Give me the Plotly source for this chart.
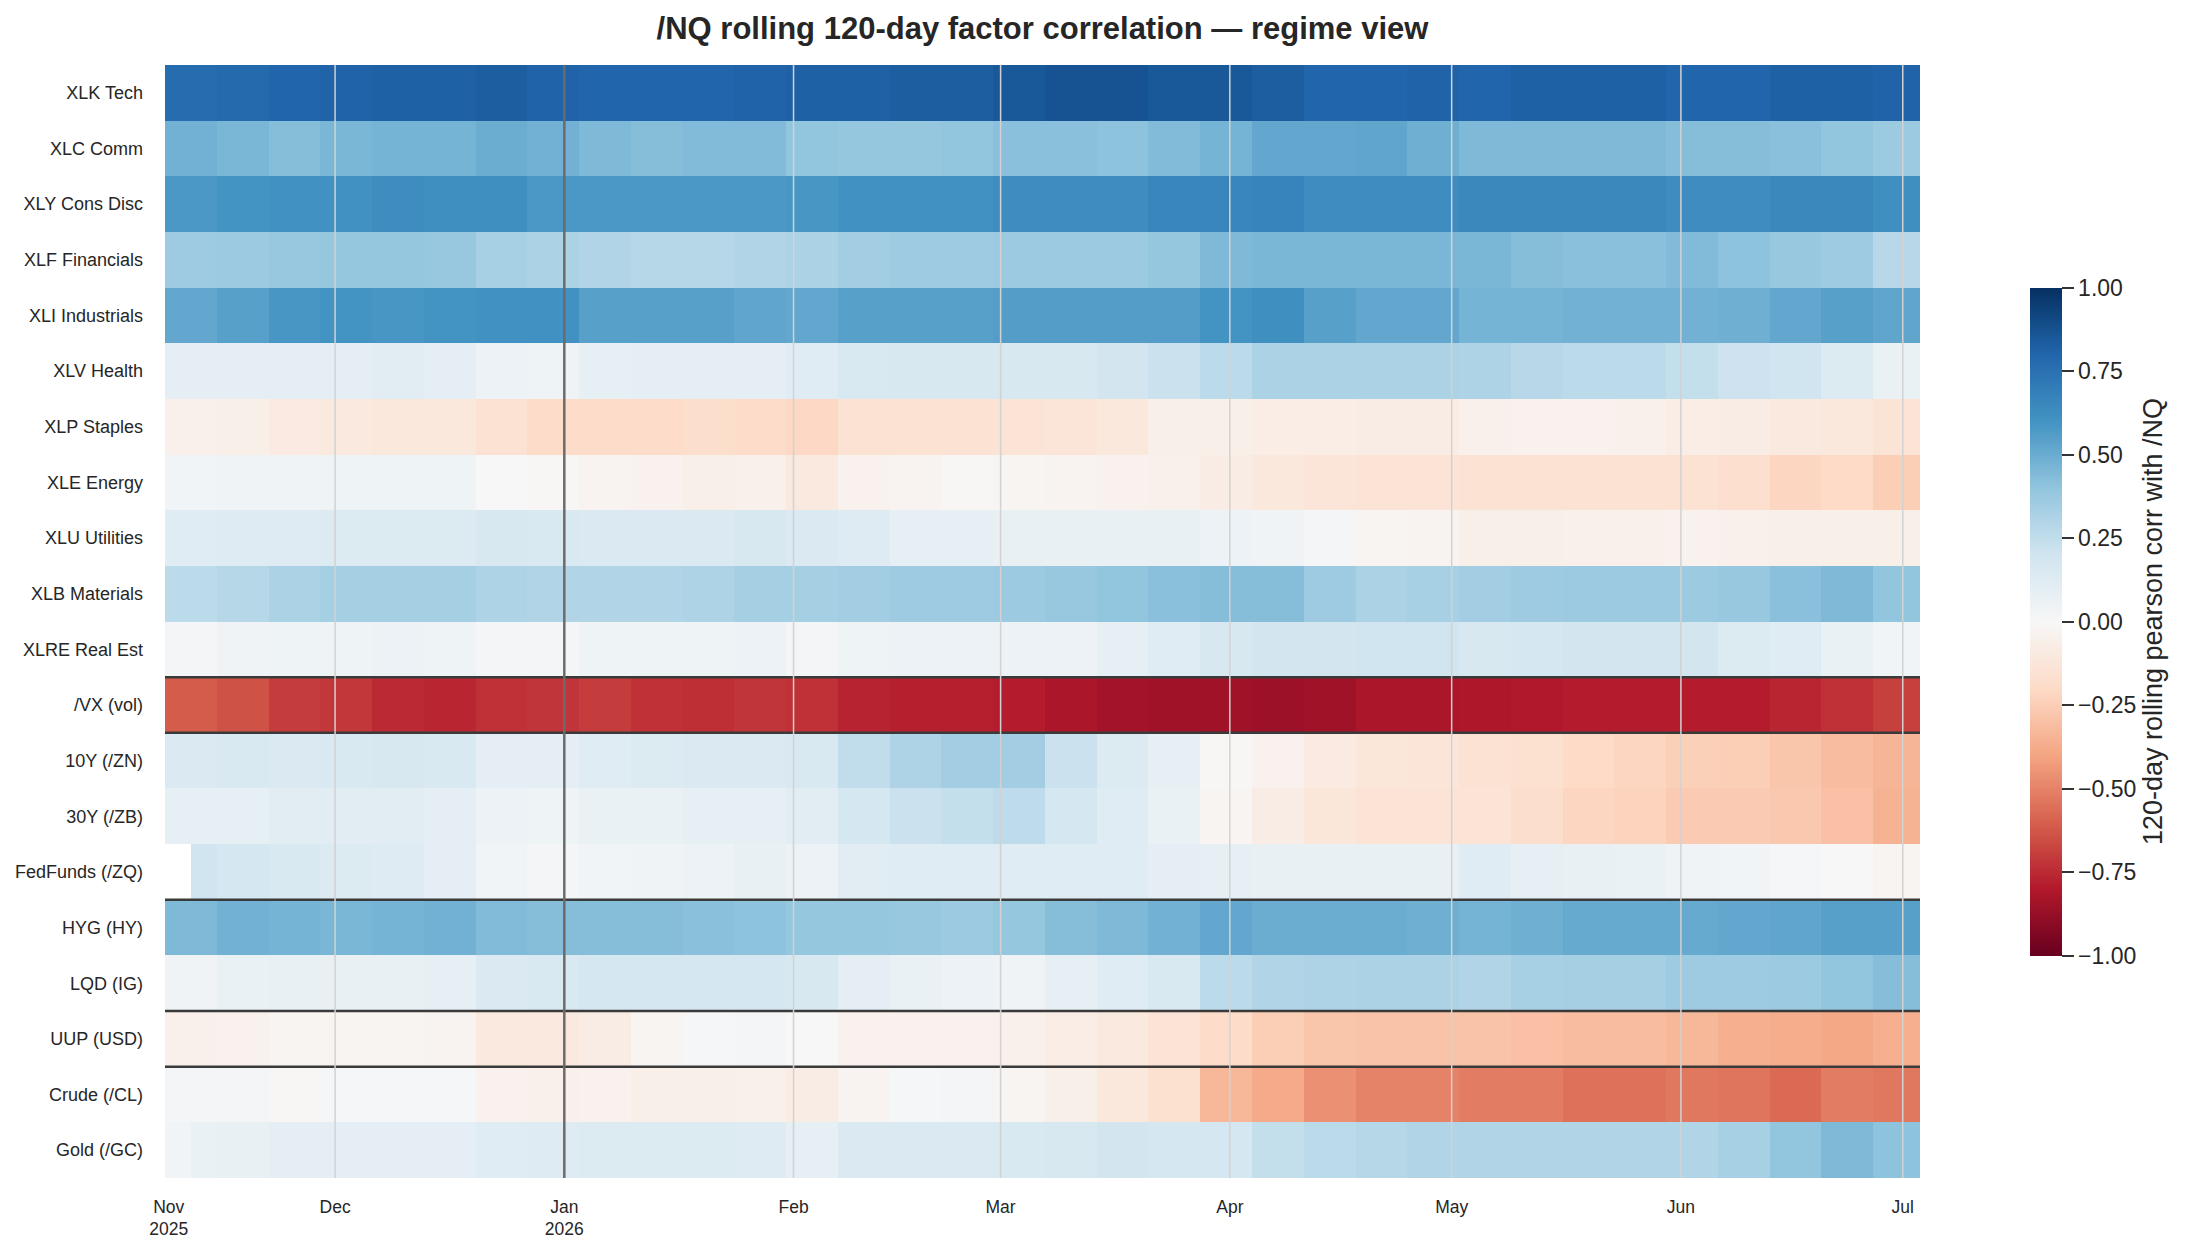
import pandas as pd
import plotly.graph_objects as go

# ---------------- data ----------------
factors = ["XLK Tech", "XLC Comm", "XLY Cons Disc", "XLF Financials", "XLI Industrials",
           "XLV Health", "XLP Staples", "XLE Energy", "XLU Utilities", "XLB Materials",
           "XLRE Real Est", "/VX (vol)", "10Y (/ZN)", "30Y (/ZB)", "FedFunds (/ZQ)",
           "HYG (HY)", "LQD (IG)", "UUP (USD)", "Crude (/CL)", "Gold (/GC)"]

# column edges (first week split in two, then weekly)
col_edges = ["2025-11-08", "2025-11-11 12:00"] + [
    d.strftime("%Y-%m-%d") for d in pd.date_range("2025-11-15", "2026-07-04", freq="7D")]

xlk = [0.77, 0.77, 0.78, 0.80, 0.81, 0.82, 0.82, 0.83, 0.81, 0.80, 0.80, 0.80, 0.81, 0.82, 0.82, 0.83, 0.83, 0.85, 0.87, 0.87, 0.85, 0.85, 0.83, 0.80, 0.80, 0.81, 0.80, 0.82, 0.82, 0.82, 0.80, 0.80, 0.82, 0.82, 0.81]
xlc = [0.48, 0.48, 0.46, 0.43, 0.46, 0.47, 0.47, 0.50, 0.48, 0.45, 0.43, 0.44, 0.44, 0.40, 0.39, 0.39, 0.40, 0.42, 0.42, 0.41, 0.44, 0.47, 0.52, 0.52, 0.53, 0.49, 0.45, 0.45, 0.45, 0.45, 0.43, 0.43, 0.42, 0.40, 0.37]
xly = [0.58, 0.58, 0.60, 0.61, 0.61, 0.63, 0.62, 0.62, 0.58, 0.58, 0.58, 0.58, 0.58, 0.59, 0.61, 0.61, 0.61, 0.63, 0.63, 0.63, 0.66, 0.66, 0.67, 0.63, 0.63, 0.63, 0.65, 0.65, 0.65, 0.65, 0.63, 0.63, 0.65, 0.65, 0.62]
xlf = [0.36, 0.36, 0.37, 0.38, 0.39, 0.39, 0.38, 0.33, 0.32, 0.30, 0.29, 0.29, 0.30, 0.32, 0.35, 0.36, 0.36, 0.37, 0.37, 0.37, 0.39, 0.45, 0.46, 0.46, 0.46, 0.46, 0.46, 0.43, 0.42, 0.42, 0.44, 0.41, 0.38, 0.36, 0.28]
xli = [0.52, 0.52, 0.55, 0.59, 0.60, 0.59, 0.60, 0.61, 0.61, 0.55, 0.55, 0.55, 0.53, 0.52, 0.55, 0.55, 0.55, 0.56, 0.56, 0.56, 0.56, 0.60, 0.62, 0.55, 0.52, 0.52, 0.47, 0.47, 0.48, 0.48, 0.48, 0.49, 0.52, 0.55, 0.53]
xlv = [0.10, 0.10, 0.10, 0.10, 0.10, 0.11, 0.10, 0.06, 0.05, 0.09, 0.10, 0.10, 0.10, 0.12, 0.16, 0.17, 0.17, 0.17, 0.17, 0.19, 0.22, 0.27, 0.32, 0.32, 0.32, 0.32, 0.31, 0.28, 0.27, 0.27, 0.24, 0.21, 0.20, 0.14, 0.07]
xlp = [-0.05, -0.05, -0.06, -0.09, -0.10, -0.11, -0.11, -0.15, -0.19, -0.19, -0.19, -0.18, -0.19, -0.21, -0.15, -0.15, -0.15, -0.14, -0.13, -0.11, -0.06, -0.06, -0.07, -0.07, -0.08, -0.08, -0.05, -0.04, -0.04, -0.05, -0.07, -0.08, -0.10, -0.11, -0.14]
xle = [0.03, 0.03, 0.04, 0.04, 0.05, 0.05, 0.05, 0.00, -0.01, -0.03, -0.04, -0.06, -0.05, -0.10, -0.04, -0.03, -0.01, -0.02, -0.03, -0.04, -0.05, -0.08, -0.11, -0.13, -0.14, -0.14, -0.15, -0.15, -0.15, -0.15, -0.15, -0.17, -0.22, -0.20, -0.25]
xlu = [0.12, 0.12, 0.13, 0.13, 0.14, 0.14, 0.14, 0.17, 0.16, 0.15, 0.15, 0.15, 0.17, 0.15, 0.13, 0.09, 0.09, 0.08, 0.08, 0.08, 0.08, 0.06, 0.04, 0.02, -0.02, -0.03, -0.06, -0.06, -0.05, -0.05, -0.04, -0.05, -0.06, -0.06, -0.06]
xlb = [0.27, 0.27, 0.29, 0.32, 0.34, 0.34, 0.34, 0.31, 0.30, 0.30, 0.30, 0.31, 0.34, 0.34, 0.35, 0.36, 0.36, 0.37, 0.38, 0.40, 0.42, 0.43, 0.43, 0.36, 0.32, 0.33, 0.35, 0.36, 0.37, 0.37, 0.37, 0.38, 0.42, 0.45, 0.40]
xlre = [0.02, 0.02, 0.04, 0.05, 0.05, 0.06, 0.05, 0.02, 0.02, 0.05, 0.05, 0.05, 0.06, 0.02, 0.05, 0.06, 0.06, 0.06, 0.06, 0.09, 0.12, 0.17, 0.19, 0.19, 0.20, 0.20, 0.17, 0.18, 0.19, 0.19, 0.19, 0.14, 0.12, 0.07, 0.03]
vx = [-0.61, -0.61, -0.64, -0.70, -0.71, -0.75, -0.76, -0.73, -0.72, -0.70, -0.73, -0.74, -0.72, -0.73, -0.77, -0.78, -0.78, -0.79, -0.82, -0.84, -0.85, -0.85, -0.86, -0.85, -0.82, -0.82, -0.81, -0.80, -0.79, -0.79, -0.79, -0.79, -0.76, -0.73, -0.69]
zn10 = [0.15, 0.15, 0.16, 0.15, 0.16, 0.17, 0.16, 0.10, 0.10, 0.12, 0.14, 0.15, 0.15, 0.16, 0.25, 0.31, 0.35, 0.35, 0.22, 0.14, 0.09, -0.01, -0.04, -0.09, -0.12, -0.13, -0.15, -0.16, -0.20, -0.22, -0.24, -0.25, -0.28, -0.31, -0.34]
zb30 = [0.09, 0.09, 0.09, 0.11, 0.11, 0.11, 0.10, 0.06, 0.05, 0.07, 0.07, 0.09, 0.09, 0.11, 0.18, 0.22, 0.24, 0.26, 0.18, 0.12, 0.07, -0.02, -0.08, -0.12, -0.14, -0.14, -0.14, -0.18, -0.22, -0.23, -0.26, -0.26, -0.27, -0.30, -0.35]
zq = [None, 0.20, 0.18, 0.16, 0.14, 0.13, 0.10, 0.03, 0.02, 0.03, 0.04, 0.06, 0.08, 0.06, 0.11, 0.12, 0.12, 0.12, 0.12, 0.12, 0.10, 0.09, 0.08, 0.08, 0.08, 0.08, 0.12, 0.09, 0.08, 0.07, 0.04, 0.03, 0.01, 0.00, -0.02]
hyg = [0.45, 0.45, 0.48, 0.47, 0.46, 0.47, 0.48, 0.44, 0.43, 0.43, 0.43, 0.42, 0.41, 0.39, 0.39, 0.38, 0.37, 0.39, 0.43, 0.45, 0.48, 0.52, 0.50, 0.50, 0.50, 0.49, 0.47, 0.49, 0.51, 0.51, 0.51, 0.52, 0.53, 0.55, 0.55]
lqd = [0.04, 0.04, 0.07, 0.08, 0.08, 0.08, 0.09, 0.15, 0.16, 0.18, 0.18, 0.18, 0.18, 0.17, 0.10, 0.07, 0.06, 0.04, 0.09, 0.12, 0.16, 0.27, 0.30, 0.31, 0.32, 0.32, 0.30, 0.33, 0.34, 0.34, 0.36, 0.36, 0.37, 0.40, 0.43]
uup = [-0.05, -0.05, -0.04, -0.02, -0.02, -0.02, -0.03, -0.10, -0.10, -0.08, -0.02, 0.01, 0.02, 0.00, -0.04, -0.04, -0.04, -0.05, -0.07, -0.10, -0.14, -0.19, -0.25, -0.28, -0.29, -0.29, -0.29, -0.30, -0.31, -0.31, -0.33, -0.36, -0.37, -0.39, -0.36]
crude = [0.02, 0.02, 0.02, -0.01, 0.01, 0.01, 0.01, -0.04, -0.05, -0.04, -0.06, -0.06, -0.05, -0.08, -0.03, 0.01, 0.02, -0.02, -0.06, -0.11, -0.16, -0.33, -0.38, -0.46, -0.50, -0.50, -0.52, -0.52, -0.55, -0.55, -0.53, -0.54, -0.57, -0.52, -0.53]
gold = [0.03, 0.07, 0.08, 0.10, 0.10, 0.10, 0.10, 0.12, 0.13, 0.14, 0.14, 0.14, 0.13, 0.09, 0.15, 0.15, 0.15, 0.16, 0.17, 0.19, 0.18, 0.18, 0.24, 0.27, 0.29, 0.30, 0.30, 0.30, 0.30, 0.30, 0.30, 0.33, 0.40, 0.45, 0.41]

z_rows = [xlk, xlc, xly, xlf, xli, xlv, xlp, xle, xlu, xlb, xlre, vx, zn10, zb30, zq,
          hyg, lqd, uup, crude, gold]

month_ticks = ["2025-11-08 12:00", "2025-12-01", "2026-01-01", "2026-02-01", "2026-03-01",
               "2026-04-01", "2026-05-01", "2026-06-01", "2026-07-01"]
month_labels = ["Nov<br>2025", "Dec", "Jan<br>2026", "Feb", "Mar", "Apr", "May", "Jun", "Jul"]
year_boundary = "2026-01-01"
group_breaks = ["XLRE Real Est", "/VX (vol)", "FedFunds (/ZQ)", "LQD (IG)", "UUP (USD)"]

cbar_vals = [-1.0, -0.75, -0.5, -0.25, 0.0, 0.25, 0.5, 0.75, 1.0]
cbar_text = ["\u22121.00", "\u22120.75", "\u22120.50", "\u22120.25", "0.00", "0.25", "0.50", "0.75", "1.00"]

# ---------------- styling ----------------
FONT = "Liberation Sans, Arial, sans-serif"
TXT = "#262626"
rdbu = ["#67001f", "#b2182b", "#d6604d", "#f4a582", "#fddbc7", "#f7f7f7",
        "#d1e5f0", "#92c5de", "#4393c3", "#2166ac", "#053061"]
colorscale = [[i / (len(rdbu) - 1), c] for i, c in enumerate(rdbu)]

fig = go.Figure(go.Heatmap(
    z=z_rows, x=col_edges, y=factors,
    zmin=-1, zmax=1, colorscale=colorscale,
    hoverongaps=False,
    colorbar=dict(
        x=1.0627, xanchor="left", xpad=0, y=0.5, yanchor="middle", ypad=0,
        len=0.6, lenmode="fraction", thickness=32, outlinewidth=0,
        ticks="outside", ticklen=12, tickwidth=2, tickcolor="#333333",
        tickvals=cbar_vals, ticktext=cbar_text,
        tickfont=dict(size=23, color=TXT, family=FONT),
        title=dict(text="120-day rolling pearson corr with /NQ", side="right",
                   font=dict(size=27, color=TXT, family=FONT)),
    ),
))

shapes = []
for name in group_breaks:
    idx = factors.index(name)
    shapes.append(dict(type="line", xref="x domain", yref="y", x0=0, x1=1,
                       y0=idx + 0.5, y1=idx + 0.5,
                       line=dict(color="#3a3a3a", width=2.5), layer="above"))
for t in month_ticks[1:]:
    is_year = t == year_boundary
    shapes.append(dict(type="line", xref="x", yref="y domain", x0=t, x1=t, y0=0, y1=1,
                       line=dict(color="#6b6b6b" if is_year else "#d2d2d2",
                                 width=2.5 if is_year else 1.5),
                       layer="above"))

fig.update_layout(
    width=2194, height=1254, autosize=False,
    margin=dict(l=165, r=274, t=65, b=76),
    paper_bgcolor="white", plot_bgcolor="white",
    font=dict(family=FONT, color=TXT),
    title=dict(text="<b>/NQ rolling 120-day factor correlation \u2014 regime view</b>",
               x=0.5, xref="paper", xanchor="center",
               y=1 - 28 / 1254, yref="container", yanchor="middle",
               font=dict(size=31, color=TXT, family=FONT)),
    xaxis=dict(type="date", range=["2025-11-08", "2026-07-03 08:00"],
               tickmode="array", tickvals=month_ticks, ticktext=month_labels,
               showgrid=False, zeroline=False, showline=False, ticks="",
               tickfont=dict(size=17.5, color=TXT, family=FONT), ticklabelstandoff=16),
    yaxis=dict(type="category", autorange="reversed", showgrid=False, zeroline=False,
               showline=False, ticks="", tickfont=dict(size=18, color=TXT, family=FONT),
               ticklabelstandoff=21),
    shapes=shapes,
)

fig.write_html("out.html")
